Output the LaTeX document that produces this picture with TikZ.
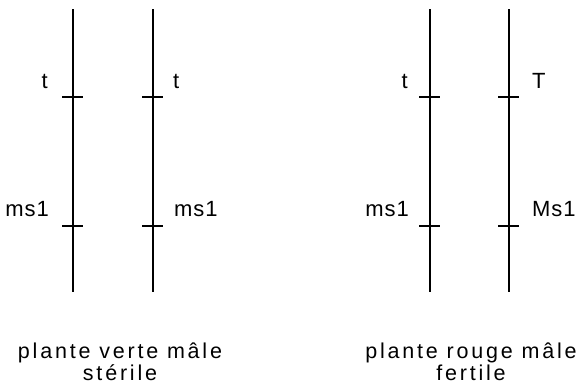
\documentclass[tikz,border=0pt]{standalone}
\usepackage{fontspec}
\setmainfont{Liberation Sans}[LetterSpace=4]
\newfontfamily\capfont{Liberation Sans}[LetterSpace=13]
\begin{document}
\begin{tikzpicture}[x=1pt,y=-1pt,
  chrom/.style={line width=1.4pt},
  tickmark/.style={line width=1.1pt},
  lbl/.style={font=\fontsize{22}{24}\selectfont, inner sep=0pt},
  captext/.style={font=\capfont\fontsize{21.5}{22}\selectfont, align=center, inner sep=0pt}]
\useasboundingbox (0,0) rectangle (581,386);
% chromosomes
\foreach \n/\x in {a/73,b/153,c/430,d/509}{
  \coordinate (\n top) at (\x,9);
  \coordinate (\n bot) at (\x,292);
  \coordinate (\n t1) at (\x,97);
  \coordinate (\n t2) at (\x,226);
  \draw[chrom] (\n top) -- (\n bot);
  \draw[tickmark] ([xshift=-11pt]\n t1) -- ([xshift=10pt]\n t1);
  \draw[tickmark] ([xshift=-11pt]\n t2) -- ([xshift=10pt]\n t2);
}
% labels
\node[lbl, anchor=base east] (la1) at (48,88) {t};
\node[lbl, anchor=base east] (la2) at (49,216) {ms1};
\node[lbl, anchor=base west] (lb1) at (173,88) {t};
\node[lbl, anchor=base west] (lb2) at (174,216) {ms1};
\node[lbl, anchor=base east] (lc1) at (408,88) {t};
\node[lbl, anchor=base east] (lc2) at (409,216) {ms1};
\node[lbl, anchor=base west] (ld1) at (532,88) {T};
\node[lbl, anchor=base west] (ld2) at (532,216) {Ms1};
% captions
\node[captext, anchor=north] (cap1) at (120,343) {plante verte mâle\\stérile};
\node[captext, anchor=north] (cap2) at (471,343) {plante rouge mâle\\fertile};
\end{tikzpicture}
\end{document}
